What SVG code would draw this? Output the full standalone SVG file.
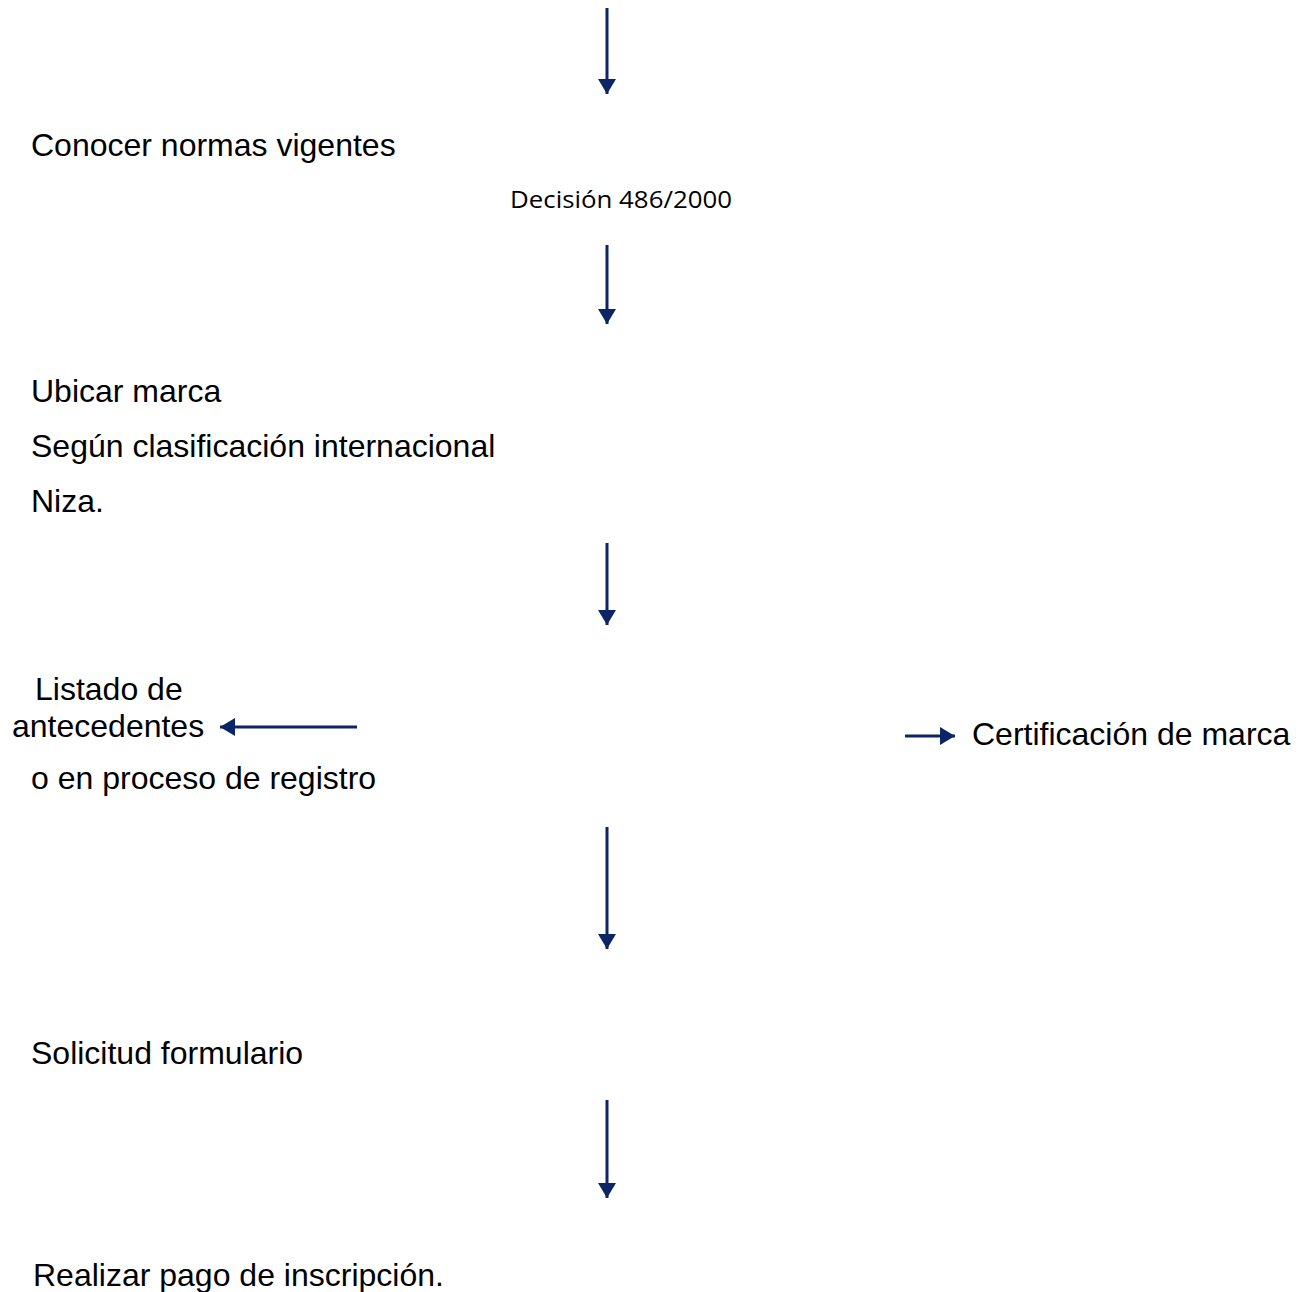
<svg xmlns="http://www.w3.org/2000/svg" width="1309" height="1292" viewBox="0 0 1309 1292">
  <defs>
    <marker id="head" viewBox="0 0 10 12" refX="10" refY="6" markerWidth="5" markerHeight="6" markerUnits="strokeWidth" orient="auto">
      <path d="M0,0 L10,6 L0,12 z" fill="#0c2566"/>
    </marker>
    <style>
      .lbl { font-family: "Liberation Sans", Arial, sans-serif; font-size: 32px; fill: #000; }
      .small { font-family: "Open Sans", "Liberation Sans", sans-serif; font-size: 24px; fill: #000; }
      .conn { stroke: #0c2566; stroke-width: 3; fill: none; marker-end: url(#head); }
    </style>
  </defs>
  <rect width="1309" height="1292" fill="#ffffff"/>

  <g id="connectors">
    <line class="conn" x1="607" y1="8" x2="607" y2="94"/>
    <line class="conn" x1="607" y1="245" x2="607" y2="324"/>
    <line class="conn" x1="607" y1="543" x2="607" y2="625"/>
    <line class="conn" x1="357" y1="727" x2="220" y2="727"/>
    <line class="conn" x1="905" y1="736" x2="955" y2="736"/>
    <line class="conn" x1="607" y1="827" x2="607" y2="949"/>
    <line class="conn" x1="607" y1="1100" x2="607" y2="1198"/>
  </g>

  <g id="node-normas">
    <text class="lbl" x="31" y="156">Conocer normas vigentes</text>
    <text class="small" x="510" y="208" textLength="222" lengthAdjust="spacingAndGlyphs">Decisión 486/2000</text>
  </g>

  <g id="node-ubicar">
    <text class="lbl" x="31" y="402">Ubicar marca</text>
    <text class="lbl" x="31" y="457">Según clasificación internacional</text>
    <text class="lbl" x="31" y="512">Niza.</text>
  </g>

  <g id="node-listado">
    <text class="lbl" x="35" y="700">Listado de</text>
    <text class="lbl" x="12" y="737">antecedentes</text>
    <text class="lbl" x="31" y="789">o en proceso de registro</text>
  </g>

  <g id="node-certificacion">
    <text class="lbl" x="972" y="745">Certificación de marca</text>
  </g>

  <g id="node-solicitud">
    <text class="lbl" x="31" y="1064">Solicitud formulario</text>
  </g>

  <g id="node-pago">
    <text class="lbl" x="33" y="1286">Realizar pago de inscripción.</text>
  </g>
</svg>
